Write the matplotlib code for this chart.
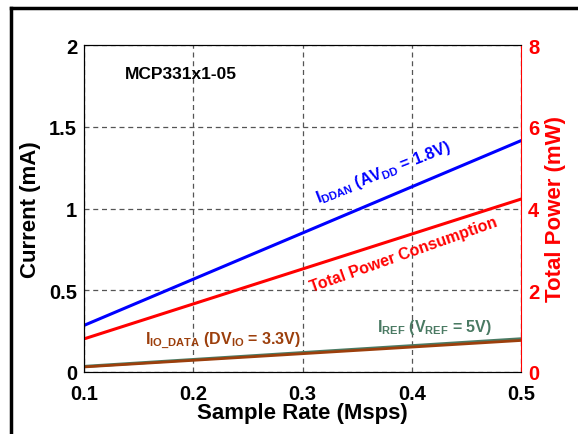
import matplotlib
matplotlib.use('Agg')
import matplotlib.pyplot as plt
from matplotlib.lines import Line2D
import numpy as np

plt.rcParams['font.family'] = ['Liberation Sans', 'DejaVu Sans']
plt.rcParams['font.weight'] = 'bold'
plt.rcParams['mathtext.fontset'] = 'custom'
plt.rcParams['mathtext.rm'] = 'Liberation Sans:bold'
plt.rcParams['mathtext.it'] = 'Liberation Sans:bold'
plt.rcParams['mathtext.bf'] = 'Liberation Sans:bold'

# sample rate (Msps)
rate = [0.1, 0.5]
# currents (mA)
i_ddan = [0.285, 1.415]
i_ref = [0.034, 0.203]
i_io = [0.031, 0.193]
# total power (mW)
power = [0.81, 4.23]

x_ticks = [0.1, 0.2, 0.3, 0.4, 0.5]
y_ticks = [0, 0.5, 1, 1.5, 2]
p_ticks = [0, 2, 4, 6, 8]

fig = plt.figure(figsize=(5.78, 4.35), dpi=100)
ax = fig.add_axes([84/578, 1 - 373/435, (521-84)/578, (373-46)/435])

blue = '#0000ff'
red = '#ff0000'
brown = '#9c3f0c'
green = '#4a7a63'

ax.plot(rate, i_ddan, color=blue, lw=2.2)
ax.plot(rate, i_ref, color=green, lw=2.2)
ax.plot(rate, i_io, color=brown, lw=2.0)

ax2 = ax.twinx()
ax2.plot(rate, power, color=red, lw=2.2)

ax.set_xlim(0.1, 0.5)
ax.set_ylim(0, 2)
ax2.set_ylim(0, 8)
ax.set_xticks(x_ticks)
ax.set_xticklabels([str(v) for v in x_ticks])
ax.set_yticks(y_ticks)
ax.set_yticklabels([str(v) for v in y_ticks])
ax2.set_yticks(p_ticks)

ax.grid(True, ls=(0, (4, 3)), color='#555555', lw=0.9)
ax.tick_params(axis='y', labelsize=14.5, length=0, pad=5)
ax.tick_params(axis='x', labelsize=14.5, length=0, pad=9)
ax2.tick_params(axis='y', labelsize=14.5, colors=red, length=0, pad=5)
for s in ['left', 'bottom', 'top']:
    ax.spines[s].set_color('black')
ax2.spines['right'].set_color(red)
ax.spines['right'].set_visible(False)

ax.set_xlabel('Sample Rate (Msps)', fontsize=16, fontweight='bold', labelpad=-1)
ax.set_ylabel('Current (mA)', fontsize=16, fontweight='bold', labelpad=6)
ax2.set_ylabel('Total Power (mW)', fontsize=16, fontweight='bold', color=red, labelpad=4)

ax.text(0.1375, 1.80, 'MCP331x1-05', fontsize=12.5, fontweight='bold')
ax.text(0.31, 1.04, r'$I_{DDAN}$ $(AV_{DD}$ = 1.8V)', color=blue, fontsize=11.5,
        fontweight='bold', rotation=21.5)
ax2.text(0.305, 1.98, 'Total Power Consumption', color=red, fontsize=11.5,
         fontweight='bold', rotation=19.5)
ax.text(0.156, 0.17, r'$I_{IO\_DATA}$ $(DV_{IO}$ = 3.3V)', color=brown, fontsize=11.5,
        fontweight='bold')
ax.text(0.368, 0.25, r'$I_{REF}$ $(V_{REF}$ = 5V)', color=green, fontsize=11.5,
        fontweight='bold')

# outer frame (top and left edges visible)
fig.add_artist(Line2D([11/578, 1.0], [1 - 9/435, 1 - 9/435], color='black', lw=2.5,
                      transform=fig.transFigure))
fig.add_artist(Line2D([11/578, 11/578], [0, 1 - 9/435], color='black', lw=2.5,
                      transform=fig.transFigure))

fig.savefig('out.png', dpi=100)
